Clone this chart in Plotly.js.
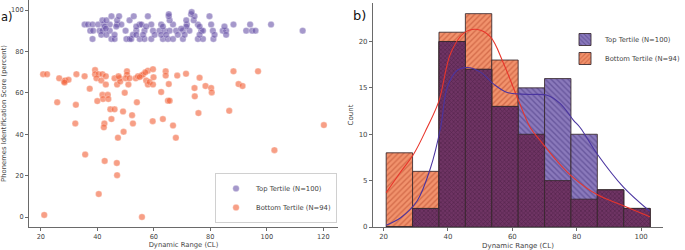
<!DOCTYPE html>
<html>
<head>
<meta charset="utf-8">
<script src="https://cdn.plot.ly/plotly-3.0.1.min.js"></script>
<style>html,body{margin:0;padding:0;background:#fff;}#chart{width:685px;height:250px;}</style>
</head>
<body>
<div id="chart"></div>
<script>
// ---- Panel a) scatter data ----
const topX = [
35.5,36.7,38.3,40.3,42.3,44.4,47.0,48.5,55.0,55.6,59.1,62.6,66.8,71.7,75.6,80.3,88.2,94.1,101.5,
37.5,38.5,40.8,41.8,44.4,50.0,53.8,56.7,59.7,62.0,63.8,65.6,67.9,70.3,72.6,76.8,77.4,80.9,84.4,85.6,92.7,94.8,96.0,112.7,
41.8,43.2,47.0,51.4,65.6,71.5,74.1,
45.0,47.7,52.9,57.9,65.3,74.4,79.7,
65.3,73.2,
73.4,
38.3,45.0,46.1,50.3,51.4,52.0,55.0,56.7,59.1,63.2,65.0,66.8,70.3,75.6,77.4,81.1,
41.4,43.2,46.1,52.6,53.8,56.2,60.3,62.6,64.4,68.5,70.9,76.2,81.5,85.6,
42.6,46.7,53.8,57.3,63.2,71.5,76.2,85.0,
43.0,69.7
];
const topY = [
93,93,93,93,93,93,93,93,93,93,93,93,93,93,93,93,93,93,93,
90,90,90,90,90,90,90,90,90,90,90,90,90,90,90,90,90,90,90,90,90,90,90,90,
95,95,95,95,95,95,95,
97,97,97,97,97,97,97,
98,98,
99,
86,86,86,86,86,86,86,86,86,86,86,86,86,86,86,86,
88,88,88,88,88,88,88,88,88,88,88,88,88,88,
92,92,92,92,92,92,92,92,
91,91
];
const bottomX = [
20.8,22.2,26.5,28.2,28.6,29.8,32.6,35.5,37.3,39.2,39.2,40.4,41.8,39.7,41.4,43.0,43.0,41.8,43.7,42.0,
43.9,40.0,46.1,47.9,47.0,48.1,50.5,50.5,50.0,51.0,51.4,49.7,53.6,54.4,55.6,56.2,57.9,59.7,57.3,57.9,
58.5,59.7,59.9,25.8,32.4,44.6,46.1,49.1,54.0,52.3,32.2,42.5,42.3,45.0,52.6,59.6,63.2,66.8,67.8,49.3,
47.3,35.7,42.6,46.9,47.0,40.5,21.2,55.8,64.2,64.2,68.3,71.4,76.2,65.3,62.6,74.4,78.3,80.3,80.5,74.5,
65.0,65.6,88.2,96.9,90.0,91.4,86.7,75.8,120.2,102.7,28.4,47.5,55.0,57.0
];
const bottomY = [
69,69,67,65.5,66,66.3,69,68,62,71,69,69,69,67,66,68,64,59,59,57,
57,56,67,67,64,65.5,70.4,68.8,67,64,67,60,67,68,68.4,68.8,70.7,71.4,66,64,
65.2,64,67.5,55.4,54.2,52,52,51,55.4,49.2,45.2,45.2,43.3,47.3,45.2,46.3,47.3,44.2,38.3,41.2,
38.3,30.2,27.1,26.1,20.2,11.1,1,0,70.4,68.3,68.3,69.2,67.3,64.2,60.4,62.3,63.3,62.3,60.2,58.3,
56.2,56.2,70.4,70.4,64.2,63.3,51.3,50.2,44.4,32.3,65,68,67.6,69.9
];

// ---- Panel b) histogram data ----
const binEdges = [20.8, 29.0, 37.2, 45.4, 53.6, 61.8, 70.0, 78.2, 86.4, 94.6, 102.8];
const topCounts = [0, 2, 20, 17, 13, 15, 16, 10, 4, 2];
const bottomCounts = [8, 6, 21, 23, 18, 10, 5, 3, 4, 2];

// KDE curves (count scale)
const kdeBottomX = [20.8, 25.0, 29.4, 33.5, 37.2, 40.8, 44.9, 49.1, 53.2, 57.3, 61.5, 65.6, 68.7, 73.9, 79.0, 86.3, 94.5, 102.7];
const kdeBottomY = [3.7, 5.8, 7.9, 10.7, 13.6, 18.7, 20.9, 21.3, 20.5, 17.6, 14.0, 10.7, 9.3, 7.1, 5.3, 3.5, 2.3, 1.1];
const kdeTopX = [20.8, 25.3, 30.4, 34.6, 37.7, 39.8, 42.9, 46.0, 50.1, 54.2, 58.4, 64.6, 70.8, 74.9, 79.0, 81.1, 86.3, 94.5, 102.7];
const kdeTopY = [0.2, 1.0, 2.8, 6.4, 10.7, 15.1, 16.9, 17.2, 16.7, 15.4, 14.5, 14.3, 14.2, 13.3, 11.5, 10.7, 7.9, 4.3, 1.7];

const xTicksA = [20, 40, 60, 80, 100, 120];
const yTicksA = [0, 20, 40, 60, 80, 100];
const xTicksB = [20, 40, 60, 80, 100];
const yTicksB = [0, 5, 10, 15, 20];

const labelTop = 'Top Tertile (N=100)';
const labelBottom = 'Bottom Tertile (N=94)';

// derived bar geometry from bin edges
const binCenters = binEdges.slice(0, -1).map((e, i) => (e + binEdges[i + 1]) / 2);
const binWidths = binEdges.slice(0, -1).map((e, i) => binEdges[i + 1] - e);
const overlapCounts = topCounts.map((v, i) => Math.min(v, bottomCounts[i]));

const barLine = {color: 'rgba(55,40,45,0.85)', width: 1};

const traces = [
  {type: 'scatter', mode: 'markers', x: topX, y: topY, name: labelTop, legend: 'legend', legendrank: 1,
   xaxis: 'x', yaxis: 'y',
   marker: {size: 6.5, color: 'rgba(100,78,165,0.58)', line: {color: 'rgba(255,255,255,0.6)', width: 0.5}}},
  {type: 'scatter', mode: 'markers', x: bottomX, y: bottomY, name: labelBottom, legend: 'legend', legendrank: 2,
   xaxis: 'x', yaxis: 'y',
   marker: {size: 6.5, color: 'rgba(242,100,60,0.62)', line: {color: 'rgba(255,255,255,0.6)', width: 0.5}}},
  {type: 'bar', x: binCenters, y: bottomCounts, width: binWidths, name: labelBottom, legend: 'legend2', legendrank: 2,
   xaxis: 'x2', yaxis: 'y2',
   marker: {color: '#f1926c', line: barLine,
            pattern: {shape: '/', fillmode: 'overlay', fgcolor: '#b8482a', size: 4, solidity: 0.35}}},
  {type: 'bar', x: binCenters, y: topCounts, width: binWidths, name: labelTop, legend: 'legend2', legendrank: 1,
   xaxis: 'x2', yaxis: 'y2',
   marker: {color: '#8a79bb', line: barLine,
            pattern: {shape: '\\', fillmode: 'overlay', fgcolor: '#45357f', size: 4, solidity: 0.35}}},
  {type: 'bar', x: binCenters, y: overlapCounts, width: binWidths, showlegend: false, hoverinfo: 'skip',
   xaxis: 'x2', yaxis: 'y2',
   marker: {color: '#6f3464', line: barLine,
            pattern: {shape: 'x', fillmode: 'overlay', fgcolor: '#3c1637', size: 3, solidity: 0.4}}},
  {type: 'scatter', mode: 'lines', x: kdeBottomX, y: kdeBottomY, showlegend: false, xaxis: 'x2', yaxis: 'y2',
   line: {color: '#e8352b', width: 1.1, shape: 'spline', smoothing: 1}},
  {type: 'scatter', mode: 'lines', x: kdeTopX, y: kdeTopY, showlegend: false, xaxis: 'x2', yaxis: 'y2',
   line: {color: '#4a34a0', width: 1.1, shape: 'spline', smoothing: 1}}
];

const axCommon = {
  showline: true, linecolor: '#6a6a6a', linewidth: 1, ticks: 'outside', ticklen: 3, tickcolor: '#6a6a6a',
  showgrid: false, zeroline: false, tickfont: {size: 6.6, color: '#444'}
};

const layout = {
  width: 685, height: 250,
  margin: {l: 0, r: 0, t: 0, b: 0},
  paper_bgcolor: '#ffffff', plot_bgcolor: '#ffffff',
  font: {family: 'DejaVu Sans, sans-serif', size: 7, color: '#444'},
  barmode: 'overlay',
  showlegend: true,
  xaxis: Object.assign({}, axCommon, {domain: [0.0423, 0.4934], range: [15.8, 125.2], tickvals: xTicksA, anchor: 'y',
    title: {text: 'Dynamic Range (CL)', font: {size: 6.8, color: '#444'}, standoff: 2}}),
  yaxis: Object.assign({}, axCommon, {domain: [0.092, 1], range: [-4.83, 104.83], tickvals: yTicksA, anchor: 'x',
    title: {text: 'Phonemes Identification Score (percent)', font: {size: 6.8, color: '#444'}, standoff: 4}}),
  xaxis2: Object.assign({}, axCommon, {domain: [0.5445, 0.9679], range: [16.7, 106.8], tickvals: xTicksB, anchor: 'y2',
    tickfont: {size: 7, color: '#444'},
    title: {text: 'Dynamic Range (CL)', font: {size: 7, color: '#444'}, standoff: 2}}),
  yaxis2: Object.assign({}, axCommon, {domain: [0.092, 0.988], range: [0, 24.15], tickvals: yTicksB, anchor: 'x2',
    tickfont: {size: 7, color: '#444'},
    title: {text: 'Count', font: {size: 7, color: '#444'}, standoff: 4}}),
  legend: {x: 0.4920, y: 0.108, xanchor: 'right', yanchor: 'bottom', bgcolor: 'rgba(255,255,255,0.85)',
    bordercolor: '#d0d0d0', borderwidth: 1, font: {size: 6.8, color: '#444'}, itemwidth: 30, tracegroupgap: 0},
  legend2: {x: 1.0, y: 0.9, xanchor: 'right', yanchor: 'top', bgcolor: 'rgba(255,255,255,0)',
    borderwidth: 0, font: {size: 6.8, color: '#444'}, itemwidth: 30, tracegroupgap: 0},
  annotations: [
    {text: 'a)', xref: 'paper', yref: 'paper', x: 0, y: 1 - 17 / 250, xanchor: 'left', yanchor: 'middle',
     showarrow: false, borderpad: 0, font: {size: 11.5, color: '#111'}},
    {text: 'b)', xref: 'paper', yref: 'paper', x: 351 / 685, y: 1 - 15 / 250, xanchor: 'left', yanchor: 'middle',
     showarrow: false, font: {size: 13, color: '#111'}}
  ]
};

Plotly.newPlot('chart', traces, layout, {staticPlot: true, displayModeBar: false});
</script>
</body>
</html>
